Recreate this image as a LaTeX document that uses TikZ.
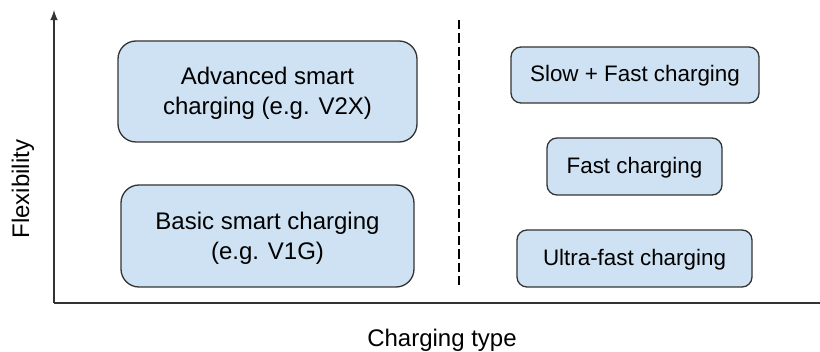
\documentclass[tikz,border=0pt]{standalone}
\usepackage{fontspec}
\setmainfont{Liberation Sans}
\definecolor{boxblue}{HTML}{CFE2F3}
\definecolor{edgegray}{HTML}{333333}

\tikzset{
    chargebox/.style={draw=edgegray, fill=boxblue, line width=0.65pt, align=center, inner sep=0pt},
    bigbox/.style={chargebox, rounded corners=9pt, font=\fontsize{12}{15}\selectfont,
        text height=25.86pt, text depth=2.54pt},
    smallbox/.style={chargebox, rounded corners=5pt, font=\fontsize{11.2}{14}\selectfont,
        text height=0.905em, text depth=0.212em},
    axislabel/.style={font=\fontsize{12}{15}\selectfont}
}

\begin{document}
\begin{tikzpicture}[x=0.5pt, y=-0.5pt, line width=0.75pt]
    \useasboundingbox (0, 0) rectangle (820, 352);

    \coordinate (origin) at (54, 303);
    \coordinate (ytop) at (54, 10);
    \coordinate (xend) at (820, 303);
    \draw [-latex, edgegray] (origin) -- (ytop);
    \draw [edgegray] (origin) -- (xend);

    \node [axislabel, rotate=90] (flex) at (23, 189) {Flexibility};
    \node [axislabel] (ctype) at (442, 340) {Charging type};

    \coordinate (divtop) at (459, 20);
    \coordinate (divbot) at (459, 285);
    \draw [line width=0.7pt, dash pattern=on 4.75pt off 2pt] (divtop) -- (divbot);

    \node [bigbox, minimum width=149.5pt, minimum height=50.5pt] (advanced) at (267.5, 91.5)
        {Advanced smart\\charging (e.g. V2X)};
    \node [bigbox, minimum width=146.5pt, minimum height=51pt] (basic) at (267.5, 236)
        {Basic smart charging\\(e.g. V1G)};

    \node [smallbox, minimum width=124pt, minimum height=28pt] (slowfast) at (635, 75) {Slow + Fast charging};
    \node [smallbox, minimum width=87.5pt, minimum height=28.5pt] (fast) at (634.5, 166.5) {Fast charging};
    \node [smallbox, minimum width=117.5pt, minimum height=28.5pt] (ultra) at (634.5, 258.5) {Ultra-fast charging};

\end{tikzpicture}
\end{document}
